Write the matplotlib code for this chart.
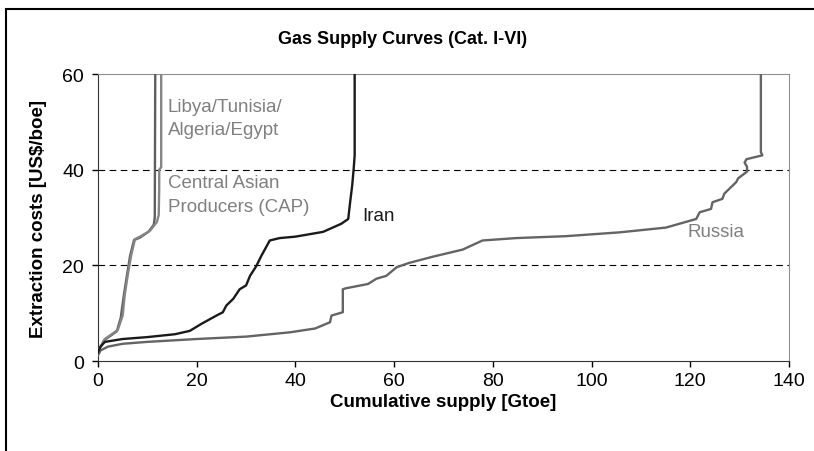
import matplotlib
matplotlib.use('Agg')
import matplotlib.pyplot as plt
from matplotlib.patches import Rectangle

# ==========================================
# Gas supply curves (Cat. I-VI): extraction cost vs cumulative supply
# ==========================================
plt.rcParams['font.family'] = ['Liberation Sans', 'DejaVu Sans']

# Libya/Tunisia/Algeria/Egypt
libya_x = [0, 0.4, 1.4, 4.0, 5.0, 5.4, 6.0, 6.7, 7.5, 8.5, 10.5, 11.9, 12.3, 12.4, 12.4, 12.8, 12.8, 12.8]
libya_y = [1.8, 2.8, 4.6, 6.5, 9.5, 13.7, 17.8, 22.0, 25.5, 26.0, 27.2, 29.0, 30.5, 36.0, 40.0, 40.5, 43.0, 60.0]

# Central Asian Producers (CAP)
cap_x = [0, 0.3, 1.2, 3.8, 4.6, 5.2, 5.8, 6.5, 7.3, 8.5, 10.2, 11.3, 11.5, 11.6]
cap_y = [1.5, 2.5, 4.3, 6.2, 9.0, 13.5, 17.5, 22.0, 25.3, 25.8, 27.0, 28.5, 30.0, 60.0]

# Iran
iran_x = [0, 0.5, 1.4, 5, 10, 15.6, 18.6, 21, 24, 25.3, 26, 27.4, 28.7, 30, 30.8, 32.1, 33.1, 34.8,
          36.8, 40, 45.6, 49.3, 50.7, 51.0, 51.5, 51.8, 52.0, 52.0]
iran_y = [1.8, 3.0, 4.0, 4.6, 5.0, 5.6, 6.3, 7.8, 9.5, 10.2, 11.6, 13.0, 15.0, 15.8, 17.8, 19.9, 22.0, 25.2,
          25.7, 26.0, 27.0, 28.7, 29.7, 32.5, 36.7, 40.2, 43.0, 60.0]

# Russia
russia_x = [0, 0.5, 2, 5, 10, 20, 30, 38.9, 44, 47.0, 47.3, 49.6, 49.6, 50.2, 54.7, 56.4, 58.4, 60.5,
            63, 67.8, 73.9, 77.9, 84.7, 94.8, 105.7, 115.1, 121.2, 121.9, 124.2, 124.5, 126.5, 126.9,
            129.3, 129.7, 131.5, 131.5, 131.0, 131.4, 134.6, 134.3, 134.3]
russia_y = [1.2, 2.2, 3.0, 3.6, 4.0, 4.6, 5.1, 6.0, 6.8, 8.1, 9.5, 10.2, 15.0, 15.2, 16.1, 17.2, 17.8, 19.6,
            20.5, 21.8, 23.3, 25.2, 25.7, 26.1, 26.9, 27.9, 29.7, 31.1, 31.8, 33.2, 33.9, 35.0,
            37.4, 38.2, 39.6, 40.6, 41.5, 42.2, 43.0, 43.7, 60.0]

x_ticks = [0, 20, 40, 60, 80, 100, 120, 140]
y_ticks = [0, 20, 40, 60]
grid_levels = [20, 40]

fig = plt.figure(figsize=(8.14, 4.52), dpi=100)
ax = fig.add_axes([0.1204, 0.1991, 0.8489, 0.6349])

# outer frame of the chart area
fig.patches.append(Rectangle((6 / 814, -0.05), 1.2, 1 - 10 / 452 + 0.05, transform=fig.transFigure,
                             fill=False, edgecolor='black', linewidth=1.5))

for lvl in grid_levels:
    ax.axhline(lvl, color='black', linestyle=(0, (6, 4)), linewidth=0.8, zorder=1)

ax.plot(cap_x, cap_y, color='#5e5e5e', linewidth=1.7, zorder=3)
ax.plot(libya_x, libya_y, color='#858585', linewidth=1.7, zorder=3)
ax.plot(russia_x, russia_y, color='#646464', linewidth=1.7, zorder=3)
ax.plot(iran_x, iran_y, color='#1a1a1a', linewidth=1.7, zorder=4)

lbl = dict(fontsize=13.5, va='center')
ax.text(14.1, 53.3, 'Libya/Tunisia/', color='#808080', **lbl)
ax.text(14.1, 48.3, 'Algeria/Egypt', color='#808080', **lbl)
ax.text(14.1, 37.4, 'Central Asian', color='#808080', **lbl)
ax.text(14.1, 32.2, 'Producers (CAP)', color='#808080', **lbl)
ax.text(53.6, 30.4, 'Iran', color='#1a1a1a', **lbl)
ax.text(119.4, 27.0, 'Russia', color='#808080', **lbl)

ax.set_xlim(0, 140)
ax.set_ylim(0, 60)
ax.set_xticks(x_ticks)
ax.set_yticks(y_ticks)
ax.tick_params(direction='out', length=4, width=1, labelsize=14, colors='black')
ax.tick_params(axis='y', pad=6)
ax.tick_params(axis='x', pad=4)
ax.spines['left'].set_color('#333333')
ax.spines['bottom'].set_color('#333333')
ax.spines['top'].set_color('#909090')
ax.spines['right'].set_color('#909090')

ax.set_xlabel('Cumulative supply [Gtoe]', fontsize=13.5, fontweight='bold', labelpad=3)
ax.set_ylabel('Extraction costs [US$/boe]', fontsize=13.5, fontweight='bold', labelpad=11)
fig.text(0.494, 0.912, 'Gas Supply Curves (Cat. I-VI)', ha='center', va='center',
         fontsize=13, fontweight='bold')

plt.savefig('out.png', dpi=100)
plt.close(fig)
